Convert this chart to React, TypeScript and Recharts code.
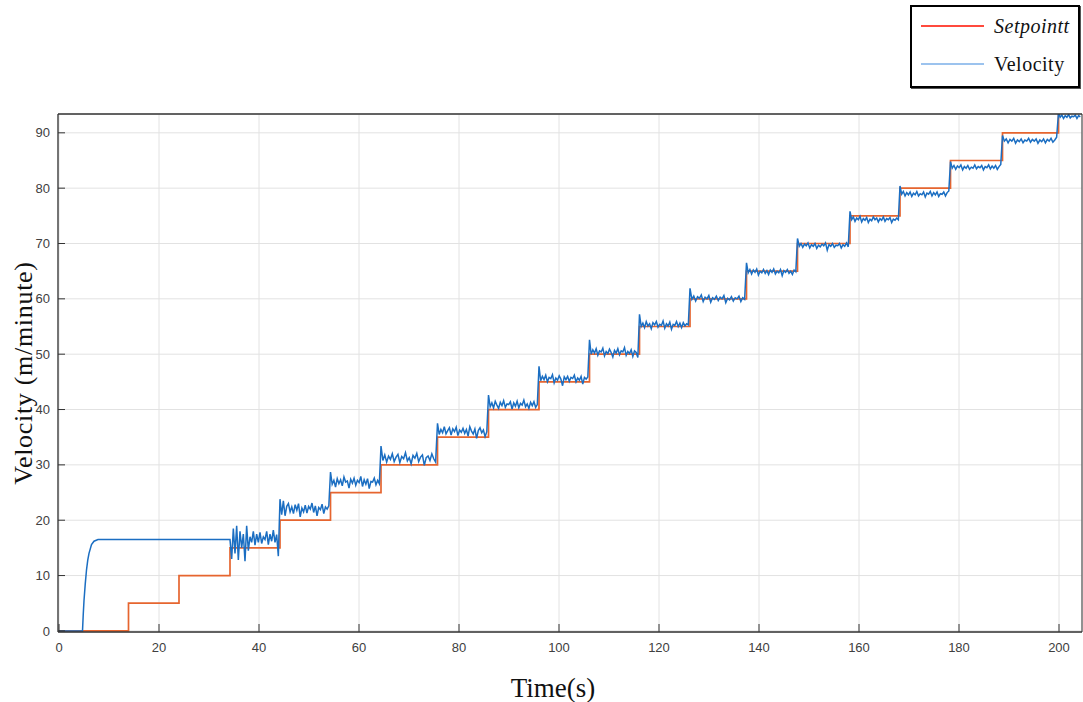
import React from 'react';
import { LineChart, Line, XAxis, YAxis, CartesianGrid, Legend } from 'recharts';

const xTicks = [0, 20, 40, 60, 80, 100, 120, 140, 160, 180, 200];
const yTicks = [0, 10, 20, 30, 40, 50, 60, 70, 80, 90];

const stepTimes = [0, 13.9, 24.0, 34.2, 44.2, 54.3, 64.4, 75.7, 85.9, 96.0, 106.1, 116.1, 126.2, 137.5, 147.7, 158.2, 168.2, 178.3, 188.7, 199.9];
const setpointLevels = [0, 5, 10, 15, 20, 25, 30, 35, 40, 45, 50, 55, 60, 65, 70, 75, 80, 85, 90, 95];
const endTime = 204.6;

const rampTimes = [0, 4.7, 4.85, 5.0, 5.25, 5.5, 5.75, 6.0, 6.5, 7.0, 7.8, 9.0, 34.2];
const rampVelocity = [0, 0, 3.0, 5.5, 8.5, 11.0, 12.8, 14.0, 15.6, 16.2, 16.5, 16.5, 16.5];

const velocitySegments: number[][] = [
  [16.5, 13, 18.5, 14, 19, 12.8, 18, 15, 17.5, 12.6, 19, 14.5, 17, 16, 18, 15.5, 17.5, 16, 17.8, 15.8, 17, 16.5, 18, 15.6, 17.5, 16.2, 18.2, 16, 17.4, 13.5],
  [23.8, 21, 23.5, 20.8, 22.5, 23, 21.5, 22.4, 21.2, 22.8, 21.8, 23, 20.6, 22.2, 21.5, 22.7, 21.3, 22.5, 22, 23.1, 21.4, 22.6, 20.8, 22.3, 21.9, 22.9, 21.2, 22.4, 22, 22.6],
  [28.7, 26.5, 27.2, 26, 27.5, 26.6, 27.3, 26.2, 27.8, 26.9, 27.1, 25.8, 27.4, 26.7, 27.6, 26.3, 27.2, 26.8, 27.9, 26.1, 27.3, 26.5, 27.5, 25.7, 27, 26.9, 27.6, 26.4, 27.2, 26.6],
  [33.4, 30.8, 31.8, 30.5, 31.6, 31, 32, 30.6, 31.4, 31.9, 30.4, 31.5, 31.1, 32.2, 30.7, 31.3, 30.2, 31.7, 31.2, 32.1, 30.6, 31.4, 31.8, 29.9, 31.3, 31.6, 30.8, 32, 31.1, 30.5],
  [37.5, 35.5, 36.4, 35.8, 36.9, 35.6, 36.2, 36.7, 35.4, 36.5, 36, 36.8, 35.3, 36.3, 35.9, 36.6, 35.7, 36.4, 35.2, 36.9, 36.1, 35.6, 36.5, 34.8, 36.2, 36.7, 35.8, 36.3, 35.1, 36],
  [42.6, 40.5, 41.2, 40.3, 41.5, 40.8, 40.2, 41.3, 40.7, 41.6, 40.4, 41, 40.9, 41.4, 40.1, 41.2, 40.6, 41.5, 40.3, 41.1, 40.8, 41.7, 40.5, 41, 40.2, 41.3, 40.7, 41.4, 40.4, 40.9],
  [47.8, 45.2, 46, 45.4, 46.2, 45, 45.8, 45.6, 46.3, 44.8, 45.7, 45.3, 46.1, 45.5, 44.3, 45.9, 45.4, 46, 45.1, 45.8, 45.6, 46.2, 45, 45.7, 45.3, 46, 44.6, 45.8, 45.5, 45.9],
  [52.6, 50, 50.8, 50.2, 51, 49.8, 50.6, 50.4, 51.1, 49.7, 50.5, 50.1, 50.9, 50.3, 49.5, 50.7, 50.2, 51, 49.9, 50.6, 50.4, 51.2, 49.8, 50.5, 50.1, 50.8, 49.6, 50.6, 50.3, 49.4],
  [57.2, 55, 55.6, 54.8, 55.9, 55.1, 55.5, 54.6, 55.7, 55.3, 55.9, 54.9, 55.4, 55.2, 56, 54.7, 55.5, 55.1, 55.8, 54.5, 55.4, 55.2, 55.9, 55, 55.6, 54.8, 55.7, 55.1, 55.5, 55.3],
  [61.9, 59.9, 60.5, 59.6, 60.4, 60.1, 60.7, 59.5, 60.3, 60, 60.6, 59.4, 60.2, 59.9, 60.5, 59.7, 60.3, 60, 60.6, 59.3, 60.1, 59.8, 60.4, 59.6, 60.2, 60, 60.5, 59.5, 60.2, 59.9],
  [66.5, 64.7, 65.3, 64.5, 65.2, 64.8, 65.4, 64.3, 65, 64.7, 65.3, 64.6, 65.1, 64.4, 65.2, 64.8, 65.4, 64.5, 65, 64.7, 65.3, 64.2, 65.1, 64.8, 65.3, 64.6, 65, 64.4, 65.2, 64.9],
  [70.9, 69.5, 70, 69.3, 69.9, 69.6, 70.1, 69.2, 69.8, 69.5, 70, 69.1, 69.7, 69.4, 69.9, 69.6, 70.1, 68.8, 69.8, 69.5, 70, 69.3, 69.7, 69.6, 70, 69.2, 69.8, 69.5, 70.1, 69.4],
  [75.8, 74.3, 74.8, 74, 74.6, 74.3, 74.9, 73.9, 74.5, 74.2, 74.7, 73.8, 74.4, 74.1, 74.8, 74.3, 74.6, 73.9, 74.5, 74.2, 74.8, 74, 74.5, 74.3, 74.7, 73.8, 74.4, 74.2, 74.6, 74.3],
  [80.4, 78.9, 79.4, 78.6, 79.2, 78.8, 79.3, 78.5, 79.1, 78.8, 79.4, 78.6, 79, 78.8, 79.3, 78.4, 79.1, 78.9, 79.4, 78.6, 79.2, 78.8, 79.3, 78.5, 79, 78.9, 79.3, 78.6, 79.2, 79.5],
  [84.8, 83.6, 84.1, 83.4, 84, 83.7, 84.2, 83.3, 83.9, 83.6, 84.1, 83.4, 83.8, 83.6, 84.2, 83.5, 83.9, 83.7, 84.1, 83.3, 83.9, 83.7, 84.2, 83.5, 84, 83.6, 84.1, 83.4, 83.9, 84.3],
  [89.5, 88.5, 88.9, 88.2, 88.8, 88.5, 89, 88.1, 88.7, 88.4, 88.9, 88.2, 88.7, 88.5, 89, 88.3, 88.8, 88.5, 88.9, 88.1, 88.7, 88.4, 88.9, 88.2, 88.8, 88.5, 89, 88.3, 88.7, 89.2],
  [93.6, 92.8, 93.2, 92.6, 93.1, 92.8, 93.3, 92.7, 93, 92.9, 93.2, 92.6, 93.1, 92.9],
];

const legendNames = ['Setpointt', 'Velocity'];
const legendColors = ['#ff4a3d', '#9cc3ee'];

const setpointData = stepTimes
  .map((t, i) => ({ t, sp: setpointLevels[i] }))
  .concat([{ t: endTime, sp: setpointLevels[setpointLevels.length - 1] }]);

const velocityData: { t: number; v: number }[] = [];
rampTimes.forEach((t, i) => velocityData.push({ t, v: rampVelocity[i] }));
velocitySegments.forEach((seg, k) => {
  const start = stepTimes[k + 3];
  const end = k + 4 < stepTimes.length ? stepTimes[k + 4] : endTime;
  const dt = (end - start) / seg.length;
  seg.forEach((v, i) => velocityData.push({ t: start + i * dt, v }));
});

const serif = '"Liberation Serif", "Times New Roman", serif';
const sans = '"Liberation Sans", Arial, sans-serif';

const YTitle = (props: any) => {
  const vb = props.viewBox || { x: 0, y: 0, width: 0, height: 0 };
  const cy = vb.y + vb.height / 2;
  return (
    <text x={23} y={cy} transform={`rotate(-90, 23, ${cy})`} textAnchor="middle" dominantBaseline="central"
      fontFamily={serif} fontSize={26} letterSpacing={0.7} fill="#111">
      Velocity (m/minute)
    </text>
  );
};

const XTitle = () => {
  return (
    <text x={553} y={688} textAnchor="middle" dominantBaseline="central" fontFamily={serif} fontSize={27} fill="#111">
      Time(s)
    </text>
  );
};

const LegendBox = () => (
  <div style={{ width: 166, height: 79, border: '2px solid #000', boxShadow: '1px 1px 0 #555', background: '#fff', fontFamily: serif, fontSize: 20, color: '#111', position: 'relative' }}>
    {legendNames.map((name, i) => (
      <div key={name} style={{ position: 'absolute', left: 9, top: i === 0 ? 6 : 44, display: 'flex', alignItems: 'center', height: 26 }}>
        <div style={{ width: 63, height: 2, background: legendColors[i] }} />
        <span style={{ marginLeft: 10, fontStyle: i === 0 ? 'italic' : 'normal', letterSpacing: 0.5 }}>{name}</span>
      </div>
    ))}
  </div>
);

export default function App() {
  return (
    <div style={{ position: 'absolute', left: 0, top: 0, width: 1083, height: 702, background: '#fff' }}>
      <LineChart width={1083} height={702} margin={{ top: 113, right: 0, left: 0, bottom: 0 }}>
        <CartesianGrid stroke="#e2e2e2" strokeWidth={1} />
        <XAxis dataKey="t" type="number" domain={[-0.2, 204.6]} ticks={xTicks} allowDataOverflow interval={0}
          height={70} tickSize={-8} tickMargin={19}
          axisLine={{ stroke: '#333', strokeWidth: 1.3 }} tickLine={{ stroke: '#333' }}
          tick={{ fontSize: 13, fill: '#404040', fontFamily: sans }}
          label={<XTitle />} />
        <XAxis xAxisId="top" orientation="top" type="number" domain={[-0.2, 204.6]} ticks={xTicks} allowDataOverflow
          height={1} tickSize={-7} tick={false} axisLine={{ stroke: '#333', strokeWidth: 1.5 }} tickLine={{ stroke: '#333' }} />
        <YAxis type="number" domain={[-0.2, 93.4]} ticks={yTicks} allowDataOverflow interval={0}
          width={58} tickSize={-7} tickMargin={15}
          axisLine={{ stroke: '#333', strokeWidth: 1.3 }} tickLine={{ stroke: '#333' }}
          tick={{ fontSize: 13, fill: '#404040', fontFamily: sans }}
          label={<YTitle />} />
        <YAxis yAxisId="right" orientation="right" type="number" domain={[-0.2, 93.4]} ticks={yTicks} allowDataOverflow
          width={1} tickSize={-7} tick={false} axisLine={{ stroke: '#333', strokeWidth: 1 }} tickLine={{ stroke: '#333' }} />
        <Line data={setpointData} dataKey="sp" type="stepAfter" stroke="#e6652f" strokeWidth={1.7} dot={false}
          isAnimationActive={false} name="Setpointt" />
        <Line data={velocityData} dataKey="v" type="linear" stroke="#1b6ec2" strokeWidth={1.5} dot={false}
          isAnimationActive={false} name="Velocity" />
        <Legend layout="vertical" align="center" verticalAlign="middle" content={() => <LegendBox />}
          wrapperStyle={{ position: 'absolute', left: 910, top: 5, width: 172 }} />
      </LineChart>
    </div>
  );
}
